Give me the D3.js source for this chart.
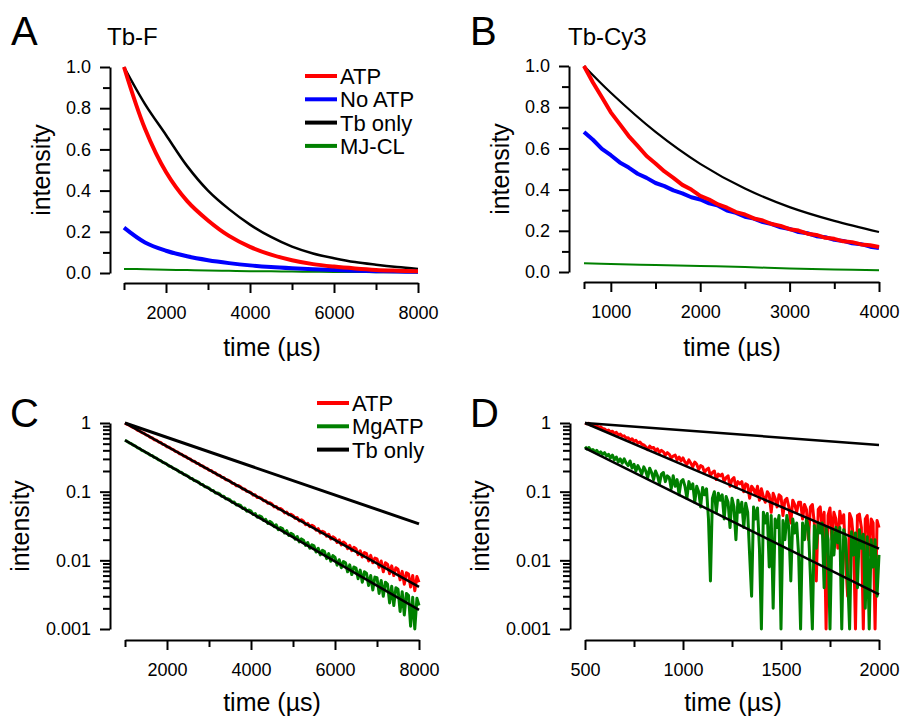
<!DOCTYPE html>
<meta charset="utf-8">
<style>
body { margin: 0; background: #fff; }
svg { font-family: "Liberation Sans", Arial, sans-serif; }
.axis path, .axis line { stroke: #000; stroke-width: 2px; }
.axis text { font-family: "Liberation Sans", Arial, sans-serif; font-size: 18px; fill: #000; }
.trace { fill: none; stroke-linejoin: round; }
</style>
<svg width="902" height="718"></svg>

<script src="https://d3js.org/d3.v7.min.js"></script>
<script>

// ---- panel A : Tb-F (linear), sampled every 500 us ----
var timeA = d3.range(1000, 8001, 500);
var atpA    = [1.0, 0.70, 0.49, 0.35, 0.255, 0.18, 0.127, 0.089, 0.062, 0.043, 0.031, 0.022, 0.015, 0.011, 0.008];
var noAtpA  = [0.22, 0.148, 0.108, 0.081, 0.062, 0.048, 0.037, 0.029, 0.023, 0.018, 0.014, 0.011, 0.009, 0.007, 0.006];
var tbOnlyA = [1.0, 0.82, 0.67, 0.52, 0.40, 0.31, 0.235, 0.175, 0.128, 0.095, 0.072, 0.053, 0.040, 0.029, 0.020];
var mjclA   = [0.020, 0.018, 0.016, 0.014, 0.012, 0.0105, 0.009, 0.008, 0.007, 0.006, 0.005, 0.0045, 0.004, 0.0035, 0.003];

// ---- panel B : Tb-Cy3 (linear) ----
var timeB = d3.range(700, 4001, 100);
var atpB = [1.00, 0.92, 0.848, 0.775, 0.718, 0.66, 0.612, 0.563, 0.527, 0.488, 0.457, 0.423, 0.40, 0.37,
            0.352, 0.328, 0.312, 0.291, 0.279, 0.26, 0.25, 0.233, 0.224, 0.208, 0.201, 0.186, 0.18, 0.166,
            0.161, 0.149, 0.145, 0.134, 0.13, 0.121];
var noAtpB = [0.68, 0.642, 0.598, 0.567, 0.532, 0.507, 0.477, 0.457, 0.432, 0.417, 0.396, 0.382, 0.363, 0.352,
              0.333, 0.322, 0.298, 0.287, 0.268, 0.259, 0.242, 0.233, 0.217, 0.209, 0.194, 0.188, 0.174,
              0.169, 0.156, 0.151, 0.139, 0.135, 0.123, 0.116];
var timeBsmooth = [700, 1000, 1500, 2000, 2500, 3000, 3500, 4000];
var tbOnlyB = [1.0, 0.87, 0.68, 0.525, 0.405, 0.315, 0.248, 0.194];
var mjclB   = [0.043, 0.039, 0.034, 0.029, 0.024, 0.017, 0.012, 0.009];

// ---- panel C : log scale, sampled every 50 us ----
var timeC = d3.range(1000, 8001, 50);
var atpC = [
  1.00, 0.955, 0.93, 0.885, 0.86,  0.83, 0.785, 0.765, 0.725, 0.71,
  0.67, 0.655, 0.62, 0.605, 0.57,  0.56, 0.53, 0.52, 0.49, 0.48,
  0.45, 0.445, 0.42, 0.41, 0.385,  0.38, 0.355, 0.35, 0.33, 0.325,
  0.305, 0.30, 0.28, 0.278, 0.26,  0.257, 0.24, 0.237, 0.222, 0.22,
  0.205, 0.204, 0.19, 0.188, 0.175,  0.174, 0.162, 0.161, 0.149, 0.148,
  0.143, 0.133, 0.132, 0.122, 0.123,  0.118, 0.109, 0.109, 0.101, 0.100,
  0.097, 0.089, 0.090, 0.082, 0.083,  0.080, 0.074, 0.0735, 0.068, 0.069,
  0.066, 0.060, 0.061, 0.056, 0.057,  0.054, 0.049, 0.0505, 0.046, 0.047,
  0.045, 0.041, 0.042, 0.0375, 0.039,  0.037, 0.033, 0.0345, 0.031, 0.0325,
  0.031, 0.0275, 0.029, 0.025, 0.0265,  0.0255, 0.0225, 0.024, 0.0205, 0.022,
  0.021, 0.0182, 0.0198, 0.0168, 0.0185,  0.0175, 0.0148, 0.0165, 0.0138, 0.0155,
  0.0148, 0.0121, 0.0138, 0.0112, 0.0130,  0.0125, 0.0098, 0.0118, 0.0092, 0.0108,
  0.0105, 0.0079, 0.0098, 0.0068, 0.0092,  0.0088, 0.0064, 0.0083, 0.0060, 0.0078,
  0.0074, 0.0052, 0.0069, 0.0045, 0.0066,  0.0063, 0.0041, 0.0060, 0.0036, 0.0058,
  0.0048];
var mgAtpC = [
  0.56, 0.54, 0.515, 0.50, 0.475,  0.46, 0.435, 0.425, 0.40, 0.39,
  0.37, 0.36, 0.34, 0.333, 0.315,  0.307, 0.29, 0.283, 0.267, 0.261,
  0.25, 0.236, 0.231, 0.218, 0.213,  0.205, 0.193, 0.19, 0.178, 0.175,
  0.168, 0.157, 0.155, 0.145, 0.143,  0.138, 0.128, 0.127, 0.118, 0.117,
  0.113, 0.105, 0.104, 0.096, 0.096,  0.093, 0.086, 0.086, 0.079, 0.079,
  0.076, 0.070, 0.0705, 0.064, 0.065,  0.063, 0.057, 0.058, 0.052, 0.054,
  0.052, 0.0465, 0.048, 0.0425, 0.0445,  0.043, 0.038, 0.0395, 0.0345, 0.037,
  0.035, 0.031, 0.033, 0.028, 0.030,  0.029, 0.025, 0.027, 0.023, 0.0248,
  0.0238, 0.0203, 0.0222, 0.0186, 0.0205,  0.0196, 0.0165, 0.0182, 0.0150, 0.0168,
  0.0162, 0.0132, 0.0150, 0.0120, 0.0140,  0.0134, 0.0106, 0.0125, 0.0097, 0.0117,
  0.0110, 0.0085, 0.0102, 0.0078, 0.0096,  0.0092, 0.0068, 0.0086, 0.0062, 0.0080,
  0.0077, 0.0054, 0.0072, 0.0048, 0.0068,  0.0065, 0.0043, 0.0060, 0.0037, 0.0057,
  0.0056, 0.0033, 0.0051, 0.0030, 0.0048,  0.0045, 0.0024, 0.0042, 0.0022, 0.0040,
  0.0038, 0.0018, 0.0035, 0.0016, 0.0033,  0.0031, 0.0011, 0.0029, 0.0010, 0.0028,
  0.0022];
// straight exponential fits (end points)
var fitTimeC = [1000, 8000];
var tbOnlyC = [1.0, 0.034];
var atpFitC = [1.0, 0.0041];
var mgFitC  = [0.56, 0.0019];

// ---- panel D : log scale, sampled every 10 us ----
var timeD = d3.range(500, 2001, 10);
var atpD = [
  1.00, 0.97, 0.99, 0.93, 0.95, 0.90, 0.91, 0.86, 0.88, 0.83,
  0.82, 0.77, 0.79, 0.74, 0.76, 0.70, 0.73, 0.67, 0.69, 0.64,
  0.65, 0.60, 0.61, 0.56, 0.59, 0.54, 0.56, 0.51, 0.53, 0.49,
  0.48, 0.45, 0.41, 0.46, 0.43, 0.44, 0.39, 0.42, 0.37, 0.40,
  0.38, 0.34, 0.37, 0.35, 0.31, 0.33, 0.34, 0.29, 0.32, 0.28,
  0.31, 0.27, 0.25, 0.29, 0.26, 0.23, 0.27, 0.25, 0.21, 0.24,
  0.23, 0.19, 0.21, 0.22, 0.17, 0.19, 0.20, 0.15, 0.18, 0.17,
  0.18, 0.14, 0.16, 0.17, 0.12, 0.15, 0.16, 0.115, 0.14, 0.13,
  0.14, 0.10, 0.13, 0.125, 0.08, 0.12, 0.11, 0.09, 0.12, 0.075,
  0.11, 0.085, 0.07, 0.10, 0.09, 0.05, 0.095, 0.08, 0.06, 0.09,
  0.085, 0.045, 0.075, 0.08, 0.06, 0.035, 0.075, 0.065, 0.05, 0.07,
  0.07, 0.04, 0.065, 0.055, 0.02, 0.06, 0.065, 0.035, 0.005, 0.055,
  0.06, 0.03, 0.05, 0.001, 0.045, 0.058, 0.02, 0.05, 0.04, 0.015,
  0.052, 0.035, 0.046, 0.01, 0.003, 0.048, 0.04, 0.02, 0.001, 0.045,
  0.047, 0.03, 0.001, 0.04, 0.045, 0.012, 0.04, 0.035, 0.001, 0.038,
  0.03];
var mgAtpD = [
  0.45, 0.42, 0.44, 0.40, 0.41, 0.38, 0.40, 0.36, 0.38, 0.35,
  0.37, 0.33, 0.35, 0.31, 0.34, 0.29, 0.32, 0.27, 0.30, 0.26,
  0.30, 0.26, 0.24, 0.28, 0.22, 0.25, 0.20, 0.24, 0.21, 0.18,
  0.23, 0.20, 0.16, 0.22, 0.19, 0.15, 0.20, 0.17, 0.13, 0.18,
  0.19, 0.14, 0.17, 0.16, 0.11, 0.17, 0.12, 0.15, 0.09, 0.14,
  0.15, 0.12, 0.08, 0.14, 0.11, 0.13, 0.07, 0.12, 0.10, 0.06,
  0.115, 0.09, 0.11, 0.04, 0.005, 0.08, 0.10, 0.05, 0.095, 0.075,
  0.09, 0.04, 0.085, 0.07, 0.03, 0.08, 0.06, 0.02, 0.075, 0.05,
  0.07, 0.03, 0.068, 0.05, 0.012, 0.003, 0.06, 0.04, 0.058, 0.015,
  0.001, 0.05, 0.035, 0.048, 0.008, 0.045, 0.002, 0.04, 0.03, 0.045,
  0.001, 0.038, 0.02, 0.045, 0.03, 0.005, 0.04, 0.025, 0.035, 0.012,
  0.001, 0.035, 0.02, 0.04, 0.03, 0.006, 0.001, 0.032, 0.015, 0.035,
  0.025, 0.035, 0.004, 0.03, 0.02, 0.001, 0.028, 0.012, 0.03, 0.018,
  0.03, 0.001, 0.028, 0.02, 0.006, 0.001, 0.026, 0.012, 0.025, 0.004,
  0.028, 0.015, 0.024, 0.002, 0.022, 0.001, 0.02, 0.008, 0.02, 0.003,
  0.012];
var fitTimeD = [500, 2000];
var tbOnlyD = [1.0, 0.48];
var atpFitD = [1.0, 0.0148];
var mgFitD  = [0.43, 0.0032];

// tick values
var linMajor = [0, 0.2, 0.4, 0.6, 0.8, 1.0];
var linMinor = [0.1, 0.3, 0.5, 0.7, 0.9];
var logMajor = [1, 0.1, 0.01, 0.001];
var logMinor = [];
[0.001, 0.01, 0.1].forEach(function(d) {
  for (var k = 2; k <= 9; k++) logMinor.push(+(d * k).toPrecision(3));
});

var RED = "#ff0000", BLUE = "#0000ff", GREEN = "#008000", BLACK = "#000";

var svg = d3.select("svg");
svg.append("rect").attr("width", 902).attr("height", 718).attr("fill", "#fff");

function panel(o) {
  var g = svg.append("g");
  var x = d3.scaleLinear().domain(o.xDomain).range(o.xRange);
  var y = o.y;

  g.append("g").attr("class", "axis").attr("transform", "translate(" + o.ax + ",0)")
    .call(d3.axisLeft(y).tickValues(o.yMajor).tickFormat(o.yFmt)
      .tickSize(10).tickSizeOuter(0).tickPadding(9));
  g.append("g").attr("class", "axis").attr("transform", "translate(" + o.ax + ",0)")
    .call(d3.axisLeft(y).tickValues(o.yMinor).tickFormat("").tickSize(7))
    .select(".domain").remove();

  g.append("g").attr("class", "axis").attr("transform", "translate(0," + o.ay + ")")
    .call(d3.axisBottom(x).tickValues(o.xMajor).tickFormat(d3.format("d"))
      .tickSize(10).tickSizeOuter(0).tickPadding(13));
  g.append("g").attr("class", "axis").attr("transform", "translate(0," + o.ay + ")")
    .call(d3.axisBottom(x).tickValues(o.xMinor).tickFormat("").tickSize(7))
    .select(".domain").remove();

  g.append("text").attr("x", o.letter[0]).attr("y", o.letter[1])
    .attr("font-size", 40).text(o.letterText);
  if (o.title) {
    g.append("text").attr("x", o.title[0]).attr("y", o.title[1])
      .attr("font-size", 24).text(o.titleText);
  }
  g.append("text").attr("x", o.xTitle[0]).attr("y", o.xTitle[1])
    .attr("text-anchor", "middle").attr("font-size", 25).text("time (\u00b5s)");
  g.append("text").attr("transform", "translate(" + o.yTitle[0] + "," + o.yTitle[1] + ") rotate(-90)")
    .attr("text-anchor", "middle").attr("font-size", 25).text("intensity");

  var line = d3.line().x(function(d) { return x(d[0]); }).y(function(d) { return y(d[1]); });
  return {
    g: g,
    trace: function(t, v, color, w, smooth) {
      var l = smooth ? line.curve(d3.curveCatmullRom) : line.curve(d3.curveLinear);
      g.append("path").attr("class", "trace").datum(d3.zip(t, v))
        .attr("d", l).attr("stroke", color).attr("stroke-width", w);
    },
    legend: function(items, lx, ly) {
      items.forEach(function(it, i) {
        var yy = ly + i * 23.3;
        g.append("line").attr("x1", lx).attr("x2", lx + 32).attr("y1", yy).attr("y2", yy)
          .attr("stroke", it[1]).attr("stroke-width", 4);
        g.append("text").attr("x", lx + 35).attr("y", yy + 8).attr("font-size", 22).text(it[0]);
      });
    }
  };
}

var fmt1 = d3.format(".1f");
var fmtLog = function(d) { return String(d); };

// A
var pA = panel({
  xDomain: [1000, 8000], xRange: [124, 418], ax: 110, ay: 283,
  y: d3.scaleLinear().domain([0, 1]).range([273, 67]),
  yMajor: linMajor, yMinor: linMinor, yFmt: fmt1,
  xMajor: [2000, 4000, 6000, 8000], xMinor: [1000, 3000, 5000, 7000],
  letter: [11, 45], letterText: "A", title: [107, 45], titleText: "Tb-F",
  xTitle: [272, 356], yTitle: [50, 170]
});
pA.trace(timeA, tbOnlyA, BLACK, 2.5, true);
pA.trace(timeA, mjclA, GREEN, 2, true);
pA.trace(timeA, noAtpA, BLUE, 4, true);
pA.trace(timeA, atpA, RED, 4, true);
pA.legend([["ATP", RED], ["No ATP", BLUE], ["Tb only", BLACK], ["MJ-CL", GREEN]], 305, 76);

// B
var pB = panel({
  xDomain: [700, 4000], xRange: [584, 879], ax: 569, ay: 282,
  y: d3.scaleLinear().domain([0, 1]).range([272, 66]),
  yMajor: linMajor, yMinor: linMinor, yFmt: fmt1,
  xMajor: [1000, 2000, 3000, 4000], xMinor: [700, 1500, 2500, 3500],
  letter: [470, 45], letterText: "B", title: [568, 45], titleText: "Tb-Cy3",
  xTitle: [732, 356], yTitle: [509, 169]
});
pB.trace(timeBsmooth, tbOnlyB, BLACK, 2.2, true);
pB.trace(timeBsmooth, mjclB, GREEN, 2, true);
pB.trace(timeB, noAtpB, BLUE, 4, false);
pB.trace(timeB, atpB, RED, 4, false);

// C
var pC = panel({
  xDomain: [1000, 8000], xRange: [125, 419], ax: 110, ay: 640,
  y: d3.scaleLog().domain([0.001, 1]).range([629, 423]),
  yMajor: logMajor, yMinor: logMinor, yFmt: fmtLog,
  xMajor: [2000, 4000, 6000, 8000], xMinor: [1000, 3000, 5000, 7000],
  letter: [10, 427], letterText: "C",
  xTitle: [272, 711], yTitle: [29, 526]
});
pC.trace(timeC, atpC, RED, 3, false);
pC.trace(timeC, mgAtpC, GREEN, 3, false);
pC.trace(fitTimeC, tbOnlyC, BLACK, 3, false);
pC.trace(fitTimeC, atpFitC, BLACK, 2.5, false);
pC.trace(fitTimeC, mgFitC, BLACK, 2.5, false);
pC.legend([["ATP", RED], ["MgATP", GREEN], ["Tb only", BLACK]], 317, 403);

// D
var pD = panel({
  xDomain: [500, 2000], xRange: [585, 879], ax: 570, ay: 640,
  y: d3.scaleLog().domain([0.001, 1]).range([629, 423]),
  yMajor: logMajor, yMinor: logMinor, yFmt: fmtLog,
  xMajor: [500, 1000, 1500, 2000], xMinor: [750, 1250, 1750],
  letter: [470, 427], letterText: "D",
  xTitle: [733, 711], yTitle: [489, 526]
});
pD.trace(timeD, atpD, RED, 3, false);
pD.trace(timeD, mgAtpD, GREEN, 3, false);
pD.trace(fitTimeD, tbOnlyD, BLACK, 2.5, false);
pD.trace(fitTimeD, atpFitD, BLACK, 2.5, false);
pD.trace(fitTimeD, mgFitD, BLACK, 2.5, false);

</script>
